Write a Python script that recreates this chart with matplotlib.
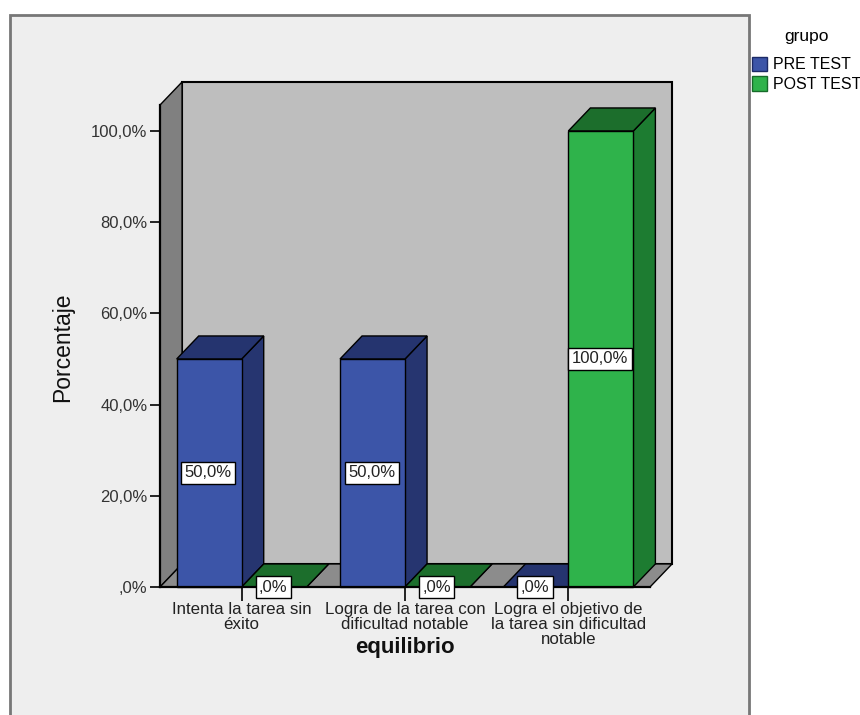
import matplotlib
matplotlib.use("Agg")
import matplotlib.pyplot as plt
from matplotlib.patches import Polygon, Rectangle

plt.rcParams['font.family'] = ['Liberation Sans', 'DejaVu Sans']

categories = ["Intenta la tarea sin\néxito",
              "Logra de la tarea con\ndificultad notable",
              "Logra el objetivo de\nla tarea sin dificultad\nnotable"]
series_names = ["PRE TEST", "POST TEST"]
pre_test = [50.0, 50.0, 0.0]
post_test = [0.0, 0.0, 100.0]
pre_labels = ["50,0%", "50,0%", ",0%"]
post_labels = [",0%", ",0%", "100,0%"]
y_ticks = [0, 20, 40, 60, 80, 100]
y_tick_labels = [",0%", "20,0%", "40,0%", "60,0%", "80,0%", "100,0%"]

BLUE = ("#3C55A8", "#263570", "#25346F")
GREEN = ("#2FB34B", "#1D7C31", "#1C6E2C")
W, H = 860, 715

fig = plt.figure(figsize=(W / 100, H / 100), dpi=100, facecolor="white")

# Outer chart panel, running off the bottom of the figure
fig.add_artist(Rectangle((10 / W, -0.02), 739 / W, 1.02 - 15 / H,
                         transform=fig.transFigure, facecolor="#EEEEEE",
                         edgecolor="#777777", linewidth=2, zorder=-1))

ax = fig.add_axes([160 / W, (H - 587) / H, 490 / W, 482 / H])
ax.patch.set_alpha(0)
x0, x1 = -0.5, 2.5
y0, y1 = 0, 105.7
ax.set_xlim(x0, x1)
ax.set_ylim(y0, y1)

# Depth offset of the pseudo-3D projection, in data units
dx, dy = 0.135, 5.05
bar_w = 0.398


def poly(points, color, z=1.0, edge="black", lw=1.0):
    ax.add_patch(Polygon(points, closed=True, facecolor=color, edgecolor=edge,
                         linewidth=lw, clip_on=False, zorder=z))


# Chart box: back wall, side wall and floor
poly([(x0 + dx, y0 + dy), (x1 + dx, y0 + dy), (x1 + dx, y1 + dy), (x0 + dx, y1 + dy)], "#BEBEBE", lw=1.5)
poly([(x0, y0), (x0 + dx, y0 + dy), (x0 + dx, y1 + dy), (x0, y1)], "#808080", lw=1.0)
poly([(x0, y0), (x1, y0), (x1 + dx, y0 + dy), (x0 + dx, y0 + dy)], "#8C8C8C", lw=1.0)


def draw_bar(left, value, shades):
    front, side, top = shades
    right = left + bar_w
    poly([(right, 0), (right + dx, dy), (right + dx, value + dy), (right, value)], side, 1.2)
    poly([(left, value), (right, value), (right + dx, value + dy), (left + dx, value + dy)], top, 1.2)
    if value > 0:
        poly([(left, 0), (right, 0), (right, value), (left, value)], front, 1.3)


# Bars go back to front so that nearer faces cover farther ones
for i in range(len(categories)):
    draw_bar(i - bar_w, pre_test[i], BLUE)
    draw_bar(i, post_test[i], GREEN)

label_box = dict(boxstyle="square,pad=0.2", facecolor="white", edgecolor="black", linewidth=1)
for i in range(len(categories)):
    for left, value, text in ((i - bar_w, pre_test[i], pre_labels[i]),
                              (i, post_test[i], post_labels[i])):
        ax.text(left + bar_w / 2 - 0.005, value / 2, text, ha="center", va="center",
                fontsize=12, color="#222222", bbox=label_box, zorder=5, clip_on=False)

for side in ("top", "right"):
    ax.spines[side].set_visible(False)
for side in ("left", "bottom"):
    ax.spines[side].set_linewidth(1.6)
    ax.spines[side].set_zorder(4)

ax.set_yticks(y_ticks)
ax.set_yticklabels(y_tick_labels, fontsize=12, color="#333333")
ax.set_xticks(range(len(categories)))
ax.set_xticklabels(categories, fontsize=12.2, color="#222222", linespacing=1.0)
ax.tick_params(axis="y", length=7, width=1.2, pad=2)
ax.tick_params(axis="x", length=10, width=1.2, pad=0.5)

ax.set_ylabel("Porcentaje", fontsize=16.5, color="#111111", va="center")
ax.yaxis.set_label_coords((63 - 160) / 490, (587 - 347) / 482)
ax.set_xlabel("equilibrio", fontsize=16, fontweight="bold", color="#111111", va="center")
ax.xaxis.set_label_coords((405 - 160) / 490, (587 - 647) / 482)

# Legend sits right of the panel and runs into the figure edge
handles = [Rectangle((0, 0), 1, 1, facecolor=BLUE[0], edgecolor="#1C2A66"),
           Rectangle((0, 0), 1, 1, facecolor=GREEN[0], edgecolor="#176B2A")]
legend = fig.legend(handles, series_names, title="grupo", loc="upper left",
                    bbox_to_anchor=(749 / W, 1 - 26 / H), frameon=False, fontsize=11.5,
                    title_fontsize=12.5, handlelength=0.95, handleheight=1.0,
                    handletextpad=0.35, labelspacing=0.25, borderpad=0.2, borderaxespad=0)
legend._legend_box.sep = 9

fig.savefig("out.png", dpi=100)
